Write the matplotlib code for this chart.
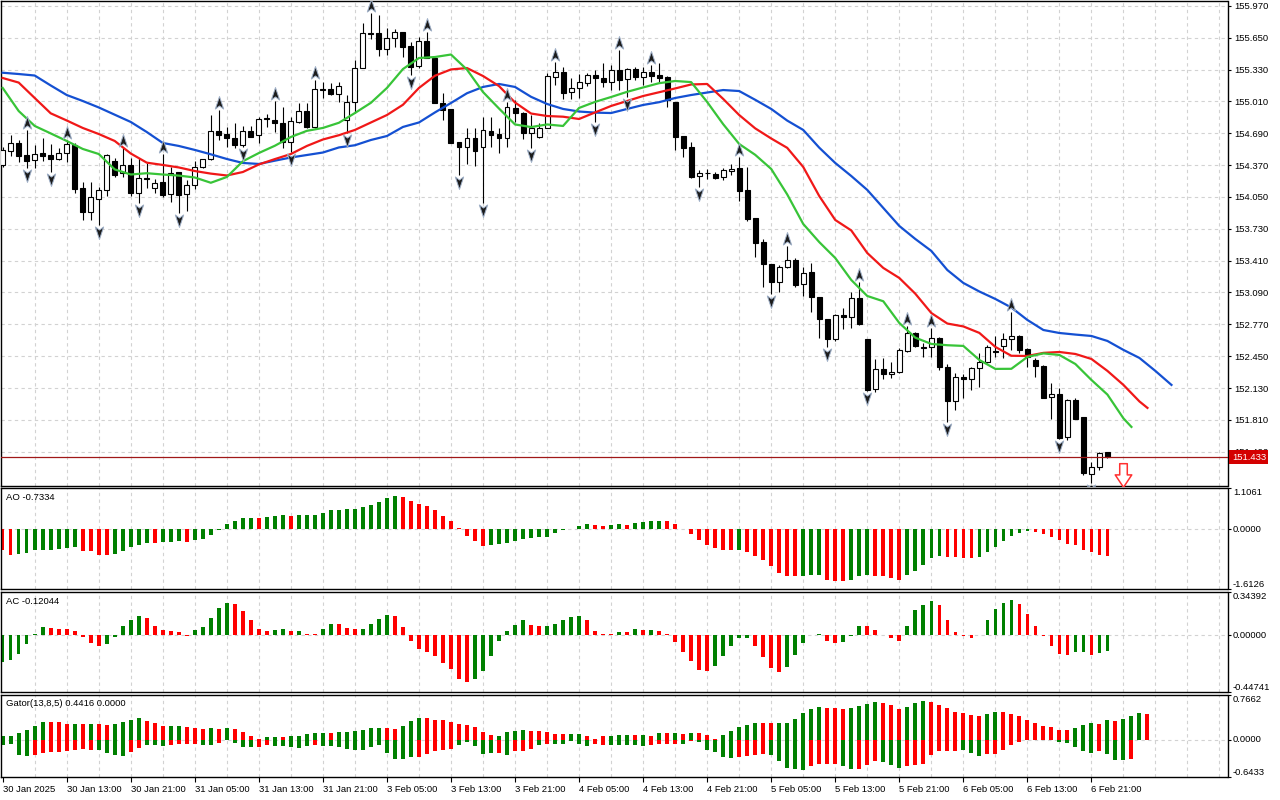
import matplotlib
matplotlib.use("Agg")
import matplotlib.pyplot as plt
import matplotlib.transforms as mtransforms
from matplotlib.path import Path

# ---------------- data (H1 candles) ----------------
time_labels = ["30 Jan 2025", "30 Jan 13:00", "30 Jan 21:00", "31 Jan 05:00", "31 Jan 13:00",
               "31 Jan 21:00", "3 Feb 05:00", "3 Feb 13:00", "3 Feb 21:00", "4 Feb 05:00",
               "4 Feb 13:00", "4 Feb 21:00", "5 Feb 05:00", "5 Feb 13:00", "5 Feb 21:00",
               "6 Feb 05:00", "6 Feb 13:00", "6 Feb 21:00"]
label_bars = list(range(0, 137, 8))

opens = [
    154.372, 154.516, 154.590, 154.472, 154.419, 154.492, 154.472, 154.435, 154.489, 154.573,
    154.138, 153.896, 154.027, 154.120, 154.412, 154.288, 154.372, 154.093, 154.244, 154.138,
    154.198, 154.077, 154.304, 154.077, 154.171, 154.349, 154.429, 154.710, 154.683, 154.646,
    154.576, 154.713, 154.673, 154.839, 154.824, 154.791, 154.606, 154.807, 154.914, 154.751,
    155.136, 155.133, 155.085, 154.824, 155.002, 155.350, 155.698, 155.695, 155.535, 155.645,
    155.705, 155.568, 155.370, 155.618, 155.447, 154.998, 154.932, 154.606, 154.556, 154.646,
    154.556, 154.713, 154.683, 154.640, 154.945, 154.891, 154.696, 154.656, 154.741, 155.259,
    155.309, 155.102, 155.143, 155.199, 155.276, 155.249, 155.209, 155.327, 155.236, 155.337,
    155.259, 155.309, 155.276, 155.253, 155.008, 154.663, 154.556, 154.261, 154.289, 154.281,
    154.251, 154.311, 154.342, 154.120, 153.839, 153.598, 153.377, 153.196, 153.347, 153.417,
    153.176, 153.296, 153.045, 152.824, 152.623, 152.864, 152.844, 153.035, 152.623, 152.121,
    152.322, 152.271, 152.291, 152.503, 152.683, 152.543, 152.543, 152.633, 152.342, 152.000,
    152.241, 152.221, 152.332, 152.392, 152.497, 152.553, 152.623, 152.653, 152.523, 152.412,
    152.352, 152.040, 152.070, 151.638, 152.010, 151.839, 151.266, 151.337, 151.487]
highs = [
    154.553, 154.673, 154.623, 154.724, 154.573, 154.640, 154.580, 154.540, 154.623, 154.590,
    154.204, 154.204, 154.148, 154.479, 154.439, 154.540, 154.439, 154.439, 154.389, 154.231,
    154.482, 154.355, 154.304, 154.221, 154.415, 154.429, 154.874, 154.925, 154.751, 154.797,
    154.764, 154.764, 154.851, 154.881, 155.018, 154.958, 154.857, 154.992, 154.992, 155.226,
    155.203, 155.199, 155.203, 155.075, 155.427, 155.796, 155.899, 155.879, 155.746, 155.736,
    155.705, 155.611, 155.661, 155.708, 155.447, 155.092, 154.932, 154.606, 154.741, 154.741,
    154.851, 154.851, 154.741, 155.008, 155.025, 154.907, 154.874, 154.797, 155.293, 155.410,
    155.360, 155.243, 155.286, 155.299, 155.327, 155.394, 155.377, 155.528, 155.344, 155.360,
    155.360, 155.377, 155.394, 155.266, 155.008, 154.663, 154.606, 154.322, 154.332, 154.301,
    154.342, 154.382, 154.452, 154.352, 153.839, 153.628, 153.377, 153.367, 153.558, 153.437,
    153.347, 153.387, 153.045, 152.824, 152.874, 152.935, 153.095, 153.196, 152.623, 152.422,
    152.432, 152.392, 152.533, 152.754, 152.693, 152.583, 152.734, 152.643, 152.372, 152.281,
    152.271, 152.342, 152.482, 152.563, 152.653, 152.683, 152.894, 152.663, 152.533, 152.432,
    152.362, 152.181, 152.131, 152.020, 152.030, 151.839, 151.387, 151.487, 151.490]
lows = [
    154.352, 154.462, 154.405, 154.339, 154.345, 154.415, 154.301, 154.422, 154.399, 154.087,
    153.819, 153.819, 153.769, 154.060, 154.254, 154.254, 154.060, 153.987, 154.138, 154.087,
    154.053, 154.003, 153.892, 153.912, 154.128, 154.339, 154.422, 154.623, 154.556, 154.540,
    154.556, 154.650, 154.590, 154.757, 154.706, 154.540, 154.505, 154.797, 154.741, 154.741,
    155.042, 155.075, 155.008, 154.696, 154.891, 155.344, 155.635, 155.467, 155.477, 155.561,
    155.460, 155.276, 155.344, 155.447, 154.992, 154.824, 154.590, 154.271, 154.382, 154.365,
    153.987, 154.556, 154.495, 154.556, 154.807, 154.630, 154.540, 154.640, 154.741, 155.176,
    155.032, 155.035, 155.042, 155.166, 154.807, 155.159, 155.126, 155.126, 155.058, 155.226,
    155.176, 155.209, 155.209, 154.958, 154.523, 154.455, 154.238, 154.151, 154.231, 154.231,
    154.221, 154.271, 154.010, 153.809, 153.447, 153.146, 153.075, 153.095, 153.337, 153.146,
    153.055, 152.894, 152.633, 152.543, 152.603, 152.724, 152.734, 152.764, 152.101, 152.090,
    152.221, 152.231, 152.281, 152.492, 152.543, 152.442, 152.442, 152.312, 151.789, 151.909,
    152.030, 152.111, 152.141, 152.382, 152.442, 152.432, 152.513, 152.482, 152.342, 152.241,
    152.030, 151.819, 151.618, 151.608, 151.819, 151.256, 151.176, 151.307, 151.425]
closes = [
    154.523, 154.590, 154.465, 154.415, 154.479, 154.465, 154.435, 154.489, 154.583, 154.131,
    153.896, 154.047, 154.120, 154.472, 154.274, 154.372, 154.087, 154.238, 154.231, 154.188,
    154.073, 154.294, 154.073, 154.171, 154.349, 154.429, 154.710, 154.676, 154.640, 154.576,
    154.710, 154.656, 154.834, 154.829, 154.791, 154.606, 154.814, 154.914, 154.751, 155.133,
    155.126, 155.082, 155.169, 155.002, 155.344, 155.695, 155.688, 155.535, 155.645, 155.705,
    155.561, 155.360, 155.618, 155.447, 154.992, 154.925, 154.596, 154.556, 154.646, 154.512,
    154.724, 154.676, 154.640, 154.952, 154.891, 154.696, 154.747, 154.741, 155.266, 155.309,
    155.092, 155.143, 155.203, 155.276, 155.243, 155.209, 155.327, 155.226, 155.337, 155.259,
    155.309, 155.266, 155.249, 155.025, 154.656, 154.546, 154.254, 154.291, 154.291, 154.241,
    154.322, 154.332, 154.110, 153.829, 153.588, 153.377, 153.196, 153.347, 153.417, 153.166,
    153.286, 153.045, 152.824, 152.623, 152.864, 152.844, 153.035, 152.774, 152.111, 152.322,
    152.271, 152.291, 152.513, 152.683, 152.553, 152.533, 152.633, 152.342, 152.000, 152.241,
    152.221, 152.332, 152.392, 152.543, 152.492, 152.623, 152.653, 152.513, 152.442, 152.352,
    152.030, 152.070, 151.628, 152.010, 151.819, 151.276, 151.337, 151.477, 151.433]

# Alligator(13,8,5), read every 2 bars (lines already shifted forward)
jaw_bars = list(range(0, 147, 2))
jaw = [155.299, 155.286, 155.271, 155.171, 155.075, 155.015, 154.950, 154.877, 154.804, 154.703,
       154.593, 154.563, 154.523, 154.479, 154.432, 154.392, 154.382, 154.415, 154.447, 154.472,
       154.497, 154.548, 154.570, 154.623, 154.663, 154.754, 154.799, 154.900, 154.995, 155.093,
       155.156, 155.186, 155.156, 155.057, 154.985, 154.935, 154.909, 154.898, 154.894, 154.935,
       154.975, 155.003, 155.045, 155.075, 155.100, 155.125, 155.115, 155.027, 154.935, 154.818,
       154.724, 154.546, 154.392, 154.261, 154.121, 153.940, 153.759, 153.628, 153.508, 153.316,
       153.186, 153.100, 153.025, 152.939, 152.814, 152.713, 152.683, 152.667, 152.653, 152.603,
       152.513, 152.432, 152.301, 152.161]
teeth_bars = list(range(0, 143, 2)) + [143]
teeth = [155.246, 155.200, 155.045, 154.891, 154.819, 154.744, 154.683, 154.613, 154.487, 154.395,
         154.372, 154.347, 154.311, 154.285, 154.266, 154.301, 154.377, 154.431, 154.482, 154.563,
         154.628, 154.671, 154.724, 154.799, 154.874, 154.977, 155.146, 155.269, 155.332, 155.346,
         155.266, 155.165, 155.000, 154.889, 154.864, 154.857, 154.834, 154.900, 154.965, 155.015,
         155.065, 155.103, 155.141, 155.181, 155.186, 155.036, 154.874, 154.740, 154.638, 154.544,
         154.352, 154.060, 153.819, 153.714, 153.487, 153.337, 153.236, 153.078, 152.884, 152.778,
         152.749, 152.684, 152.543, 152.454, 152.452, 152.483, 152.492, 152.472, 152.422, 152.302,
         152.161, 151.995, 151.930]
lips_bars = list(range(0, 141, 2)) + [141]
lips = [155.146, 154.914, 154.764, 154.689, 154.613, 154.533, 154.482, 154.327, 154.276, 154.289,
        154.276, 154.265, 154.246, 154.193, 154.251, 154.409, 154.492, 154.565, 154.653, 154.715,
        154.744, 154.796, 154.894, 154.997, 155.146, 155.336, 155.447, 155.457, 155.482, 155.330,
        155.105, 154.939, 154.779, 154.753, 154.779, 154.764, 154.945, 155.006, 155.055, 155.107,
        155.151, 155.194, 155.216, 155.205, 155.005, 154.782, 154.583, 154.474, 154.332, 154.076,
        153.779, 153.597, 153.437, 153.216, 153.055, 153.002, 152.784, 152.636, 152.573, 152.560,
        152.553, 152.412, 152.322, 152.323, 152.442, 152.478, 152.462, 152.371, 152.211, 152.064,
        151.825, 151.739]

fractal_up = [3, 8, 15, 20, 27, 34, 39, 46, 53, 63, 69, 77, 81, 92, 98, 107, 113, 116, 126]
fractal_down = [3, 6, 12, 17, 22, 30, 36, 43, 51, 57, 60, 66, 74, 78, 87, 96, 103, 108, 118, 132, 136]

last_price = 151.433
sell_bar = 140
sell_price = 151.26

ao = [
    -0.554, -0.688, -0.662, -0.644, -0.572, -0.554, -0.550, -0.536, -0.510, -0.492,
    -0.581, -0.599, -0.688, -0.690, -0.662, -0.581, -0.492, -0.420, -0.375, -0.385,
    -0.358, -0.349, -0.331, -0.335, -0.304, -0.268, -0.152, -0.018, 0.134, 0.224,
    0.295, 0.304, 0.300, 0.331, 0.358, 0.375, 0.358, 0.375, 0.384, 0.386,
    0.429, 0.510, 0.519, 0.536, 0.545, 0.590, 0.653, 0.742, 0.849, 0.894,
    0.858, 0.760, 0.680, 0.617, 0.519, 0.358, 0.224, 0.018, -0.197, -0.331,
    -0.447, -0.438, -0.402, -0.375, -0.331, -0.259, -0.241, -0.223, -0.214, -0.116,
    -0.036, 0.004, 0.089, 0.134, 0.098, 0.096, 0.116, 0.134, 0.116, 0.161,
    0.188, 0.224, 0.226, 0.220, 0.134, 0.010, -0.125, -0.304, -0.438, -0.519,
    -0.554, -0.572, -0.570, -0.617, -0.715, -0.840, -1.001, -1.180, -1.252, -1.270,
    -1.265, -1.243, -1.240, -1.359, -1.386, -1.390, -1.359, -1.252, -1.243, -1.270,
    -1.272, -1.315, -1.359, -1.225, -1.118, -0.957, -0.778, -0.715, -0.760, -0.762,
    -0.765, -0.778, -0.760, -0.626, -0.492, -0.331, -0.197, -0.107, -0.063, -0.089,
    -0.125, -0.214, -0.304, -0.393, -0.420, -0.554, -0.626, -0.688, -0.7334]
ao_colors = ("RRGGGGGGGG" "RRRRGGGGGR" "GGGRGGGGGG" "GGRGGGRGGG" "GGGGGGGGGG"
             "RRRRRRRRRR" "RGGGGGGGGG" "GGGGRRGGRG" "GGGRRRRRRR" "RRGRRRRRRR"
             "GGGRRRGGGR" "RRRGGGGGRR" "RRGGGGGGGR" "RRRRRRRRR")

ac = [
    -0.211, -0.198, -0.150, -0.066, 0.008, 0.066, 0.061, 0.053, 0.050, 0.037,
    -0.013, -0.061, -0.087, -0.071, -0.016, 0.074, 0.121, 0.153, 0.140, 0.074,
    0.045, 0.034, 0.029, -0.002, 0.045, 0.066, 0.140, 0.219, 0.259, 0.251,
    0.195, 0.124, 0.050, 0.037, 0.040, 0.050, 0.032, 0.037, 0.013, 0.011,
    0.050, 0.092, 0.090, 0.061, 0.048, 0.050, 0.092, 0.132, 0.164, 0.153,
    0.066, -0.045, -0.106, -0.127, -0.164, -0.214, -0.264, -0.348, -0.372, -0.341,
    -0.285, -0.166, -0.040, 0.032, 0.084, 0.119, 0.084, 0.071, 0.074, 0.092,
    0.124, 0.145, 0.153, 0.124, 0.037, 0.013, 0.011, 0.029, 0.027, 0.053,
    0.045, 0.047, 0.037, 0.008, -0.055, -0.127, -0.206, -0.277, -0.285, -0.238,
    -0.166, -0.087, -0.021, -0.020, -0.087, -0.172, -0.259, -0.293, -0.246, -0.158,
    -0.061, 0.005, 0.008, -0.045, -0.061, -0.053, -0.005, 0.074, 0.072, 0.045,
    0.005, -0.021, -0.045, 0.074, 0.198, 0.243, 0.272, 0.243, 0.119, 0.026,
    -0.008, -0.021, 0.002, 0.124, 0.211, 0.259, 0.282, 0.251, 0.172, 0.074,
    -0.003, -0.087, -0.145, -0.158, -0.132, -0.130, -0.158, -0.140, -0.12044]
ac_colors = ("GGGGGGRRRR" "RRRGGGGGRR" "RRRRGGGGGR" "RRRRGGRGRR" "GGRRRGGGGR"
             "RRRRRRRRRG" "GGGGGGRRGG" "GGGRRRRGRG" "RGRRRRRRRG" "GGGGRRRRGG"
             "GGGRRGGGRR" "RRRGGGGRRR" "RRGGGGGRRR" "RRRRGGRGG")

gator_up = [
    0.057, 0.068, 0.108, 0.170, 0.239, 0.295, 0.295, 0.295, 0.273, 0.273,
    0.261, 0.267, 0.261, 0.256, 0.267, 0.295, 0.341, 0.375, 0.312, 0.284,
    0.227, 0.227, 0.227, 0.222, 0.199, 0.187, 0.199, 0.176, 0.199, 0.187,
    0.136, 0.068, 0.017, 0.051, 0.051, 0.045, 0.068, 0.068, 0.102, 0.119,
    0.119, 0.114, 0.125, 0.125, 0.153, 0.165, 0.199, 0.199, 0.193, 0.187,
    0.239, 0.324, 0.369, 0.369, 0.341, 0.341, 0.307, 0.267, 0.256, 0.222,
    0.136, 0.074, 0.062, 0.125, 0.153, 0.165, 0.153, 0.153, 0.131, 0.102,
    0.102, 0.091, 0.102, 0.068, 0.017, 0.068, 0.068, 0.085, 0.085, 0.085,
    0.085, 0.068, 0.119, 0.119, 0.119, 0.102, 0.119, 0.119, 0.085, 0.017,
    0.085, 0.153, 0.222, 0.256, 0.278, 0.278, 0.278, 0.278, 0.290, 0.358,
    0.460, 0.528, 0.562, 0.545, 0.540, 0.528, 0.545, 0.579, 0.608, 0.642,
    0.625, 0.596, 0.528, 0.562, 0.625, 0.659, 0.642, 0.596, 0.545, 0.477,
    0.454, 0.420, 0.409, 0.443, 0.477, 0.471, 0.437, 0.409, 0.341, 0.290,
    0.239, 0.210, 0.170, 0.159, 0.204, 0.256, 0.278, 0.261, 0.329, 0.318,
    0.358, 0.409, 0.460, 0.4416]
gator_up_colors = ("GGGGGGRRRG" "RGRRGGGGRR" "RGGRRRGRGR" "RRRGGRGGGG" "GRGGGGGGRR"
                   "GGGRRRRRRR" "RRGGGGRRRR" "RGGRRRGGGR" "GRGRGRGRRR" "GGGGGRRGGG"
                   "GGGRRRGGGG" "RRRGGGRRRR" "RRRGGRRRRR" "RRRRGGGRGR" "GGGR")
gator_dn = [
    -0.098, -0.080, -0.270, -0.287, -0.270, -0.224, -0.218, -0.212, -0.201, -0.184,
    -0.155, -0.172, -0.172, -0.230, -0.270, -0.287, -0.212, -0.138, -0.098, -0.098,
    -0.109, -0.086, -0.075, -0.075, -0.080, -0.098, -0.098, -0.057, -0.011, -0.057,
    -0.126, -0.126, -0.132, -0.092, -0.109, -0.109, -0.132, -0.144, -0.109, -0.086,
    -0.115, -0.115, -0.126, -0.161, -0.184, -0.184, -0.121, -0.098, -0.230, -0.339,
    -0.339, -0.304, -0.293, -0.253, -0.195, -0.184, -0.155, -0.086, -0.040, -0.115,
    -0.241, -0.230, -0.230, -0.270, -0.195, -0.195, -0.155, -0.086, -0.069, -0.069,
    -0.069, -0.023, -0.080, -0.109, -0.080, -0.086, -0.098, -0.086, -0.086, -0.086,
    -0.109, -0.098, -0.080, -0.080, -0.080, -0.080, -0.029, -0.040, -0.172, -0.212,
    -0.298, -0.310, -0.298, -0.287, -0.258, -0.241, -0.270, -0.373, -0.482, -0.511,
    -0.528, -0.459, -0.425, -0.425, -0.425, -0.459, -0.511, -0.499, -0.442, -0.373,
    -0.385, -0.431, -0.482, -0.453, -0.442, -0.413, -0.270, -0.201, -0.189, -0.189,
    -0.172, -0.230, -0.281, -0.253, -0.241, -0.178, -0.098, -0.040, -0.011, -0.011,
    -0.011, -0.011, -0.040, -0.057, -0.126, -0.195, -0.230, -0.201, -0.253, -0.356,
    -0.356, -0.327]
gator_dn_colors = ("GGGGRRRRRR" "RRGGGGRRGG" "GRRRRGGRGG" "GGRRGGGGGR" "GGGGGGGGGG"
                   "GGRRRRRGGG" "GGRGRRRGRG" "GGGGRRGGGG" "GRRRRGRGGG" "GGRRRRGGGG"
                   "GRRRRGGRRR" "GGGRRRRRRR" "GGGRRRRRRR" "GGGGGGGRGG" "GR")

# ---------------- figure ----------------
plt.rcParams["font.family"] = ["Liberation Sans", "DejaVu Sans"]
FS = 6.8
plt.rcParams["font.size"] = FS

W, H = 1280, 800
fig = plt.figure(figsize=(12.8, 8), dpi=100)
fig.patch.set_facecolor("white")


def panel(top, bottom):
    return fig.add_axes([1 / W, 1 - bottom / H, 1226.5 / W, (bottom - top) / H])


ax = panel(1, 485.5)
ax_ao = panel(488, 589)
ax_ac = panel(592, 692)
ax_gt = panel(695, 777)

GRID = "#d2d2d2"
DASH = (0, (3, 3))
HIST = {"G": "#008000", "R": "#ff0000"}
XMIN, XMAX = -0.21, 153.0

for a in (ax, ax_ao, ax_ac, ax_gt):
    a.set_xlim(XMIN, XMAX)
    for s in a.spines.values():
        s.set_color("black")
        s.set_linewidth(1.0)
    for gx in range(4, 153, 4):
        a.axvline(gx, color=GRID, lw=0.8, ls=DASH, zorder=0)
    a.yaxis.tick_right()
    a.tick_params(axis="y", direction="out", length=2.5, width=0.8, pad=2.5, labelsize=FS)
    a.set_xticks([])

# ---- main chart ----
ax.set_ylim(151.150, 156.020)
price_ticks = [155.970 - 0.32 * k for k in range(15)]
ax.set_yticks(price_ticks)
ax.set_yticklabels(["%.3f" % p for p in price_ticks])
for p in price_ticks:
    ax.axhline(p, color=GRID, lw=0.8, ls=DASH, zorder=0)

xs = list(range(len(opens)))
ax.vlines(xs, lows, highs, color="black", lw=0.8, zorder=2)
bottoms = [min(o, c) for o, c in zip(opens, closes)]
heights = [max(abs(c - o), 0.006) for o, c in zip(opens, closes)]
faces = ["white" if c > o else "black" for o, c in zip(opens, closes)]
ax.bar(xs, heights, 0.62, bottoms, color=faces, edgecolor="black", linewidth=0.8, zorder=3)

ax.plot(jaw_bars, jaw, color="#1450d2", lw=1.6, zorder=4)
ax.plot(teeth_bars, teeth, color="#f01818", lw=1.6, zorder=4)
ax.plot(lips_bars, lips, color="#38c438", lw=1.6, zorder=4)

up_path = Path([(0, 1), (0.6, -0.8), (0, -0.35), (-0.6, -0.8), (0, 1)],
               [Path.MOVETO, Path.LINETO, Path.LINETO, Path.LINETO, Path.CLOSEPOLY])
dn_path = Path([(0, -1), (0.6, 0.8), (0, 0.35), (-0.6, 0.8), (0, -1)],
               [Path.MOVETO, Path.LINETO, Path.LINETO, Path.LINETO, Path.CLOSEPOLY])
ax.plot(fractal_up, [highs[i] + 0.07 for i in fractal_up], ls="none", marker=up_path,
        ms=10, mfc="#1c1c1c", mec="#9fb0c8", mew=0.7, zorder=5)
ax.plot(fractal_down, [lows[i] - 0.07 for i in fractal_down], ls="none", marker=dn_path,
        ms=10, mfc="#1c1c1c", mec="#9fb0c8", mew=0.7, zorder=5)

sell_path = Path([(-0.32, 1), (0.32, 1), (0.32, 0.05), (0.7, 0.05), (0, -1), (-0.7, 0.05),
                  (-0.32, 0.05), (-0.32, 1)],
                 [Path.MOVETO] + [Path.LINETO] * 6 + [Path.CLOSEPOLY])
ax.plot([sell_bar], [sell_price], ls="none", marker=sell_path, ms=17,
        mfc="white", mec="#ff3030", mew=1.1, zorder=5)

ax.axhline(last_price, color="#a01818", lw=0.9, zorder=3)
blend = mtransforms.blended_transform_factory(ax.transAxes, ax.transData)
ax.text(1.0035, last_price, "%.3f" % last_price, transform=blend, color="white",
        fontsize=FS, ha="left", va="center", zorder=10, clip_on=False,
        bbox=dict(boxstyle="square,pad=0.25", fc="#d40000", ec="none"))


# ---- indicator panels ----
def indicator(a, lo, hi, fmt, name):
    a.set_ylim(lo, hi)
    a.axhline(0, color=GRID, lw=0.8, ls=DASH, zorder=0)
    a.set_yticks([hi, 0, lo])
    a.set_yticklabels([])
    tr = mtransforms.blended_transform_factory(a.transAxes, a.transData)
    for v, va in ((hi, "top"), (0, "center"), (lo, "bottom")):
        a.text(1.0045, v, fmt % v, transform=tr, ha="left", va=va, fontsize=FS, clip_on=False)
    a.text(0.004, 0.95, name, transform=a.transAxes, ha="left", va="top", fontsize=FS)


ax_ao.bar(range(len(ao)), ao, 0.45, color=[HIST[c] for c in ao_colors], zorder=2)
indicator(ax_ao, -1.6126, 1.1061, "%.4f", "AO %.4f" % ao[-1])

ax_ac.bar(range(len(ac)), ac, 0.45, color=[HIST[c] for c in ac_colors], zorder=2)
indicator(ax_ac, -0.44741, 0.34392, "%.5f", "AC %.5f" % ac[-1])

ax_gt.bar(range(len(gator_up)), gator_up, 0.5, color=[HIST[c] for c in gator_up_colors], zorder=2)
ax_gt.bar(range(len(gator_dn)), gator_dn, 0.5, color=[HIST[c] for c in gator_dn_colors], zorder=2)
indicator(ax_gt, -0.6433, 0.7662, "%.4f", "Gator(13,8,5) %.4f 0.0000" % gator_up[-1])

ax_gt.set_xticks(label_bars)
ax_gt.set_xticklabels(time_labels, ha="left")
ax_gt.tick_params(axis="x", direction="out", length=3.5, width=0.8, pad=2, labelsize=FS)

fig.savefig("out.png", dpi=100, facecolor="white")
